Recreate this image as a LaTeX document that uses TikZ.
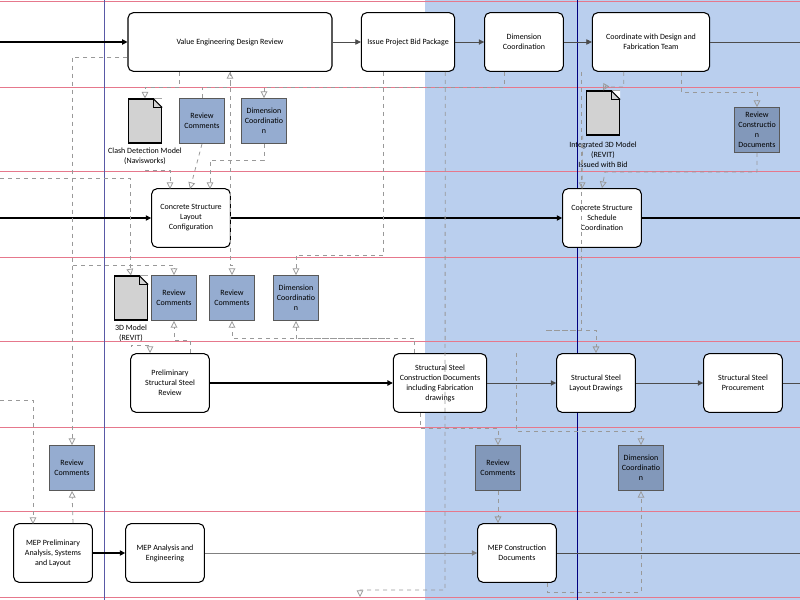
\documentclass[tikz,border=0pt]{standalone}
\usepackage{fontspec}
\setmainfont{Carlito}
\usetikzlibrary{arrows.meta,positioning}
\definecolor{laneblue}{RGB}{186,207,238}
\definecolor{boxblue}{RGB}{149,172,208}
\definecolor{boxdark}{RGB}{130,152,186}
\definecolor{laneline}{RGB}{230,120,140}
\definecolor{docgray}{RGB}{210,210,210}

\begin{document}
\begin{tikzpicture}[
    x=0.75pt, y=-0.75pt,
    font=\fontsize{6}{7.5}\selectfont,
    task/.style={rectangle, draw, rounded corners=4pt, fill=white, thick, align=center, minimum width=59pt, minimum height=44pt},
    note/.style={rectangle, draw=gray!70!black, fill=boxblue, align=center, minimum width=34pt, minimum height=34pt, inner sep=1pt},
    notedark/.style={note, fill=boxdark},
    doc/.style={rectangle, draw, thick, fill=docgray, minimum width=25pt, minimum height=33pt},
    flow/.style={-{Triangle[length=4pt,width=4pt]}, thick},
    thinflow/.style={-{Triangle[length=4pt,width=4pt]}, gray!60!black},
    link/.style={-{Triangle[open,length=5pt,width=5pt]}, dashed, gray!80, semithick}
]
    % lanes
    \fill[laneblue] (425,0) rectangle (800,600);
    \useasboundingbox (0,0) rectangle (800,600);
    \foreach \y in {1,87,171,257,341,427,511,597}
        \draw[laneline, thin] (0,\y) -- (800,\y);
    \draw[blue!30!gray] (104,0) -- (104,600);
    \draw[blue!50!black, thin] (577,0) -- (577,600);

    % top lane
    \node[task, minimum width=153pt] (vereview) at (230,42) {Value Engineering Design Review};
    \node[task, minimum width=70pt] (bidpkg) at (408,42) {Issue Project Bid Package};
    \node[task] (dimcoord) at (524,42) {Dimension\\Coordination};
    \node[task, minimum width=88pt] (designteam) at (651,42) {Coordinate with Design and\\Fabrication Team};

    % review lane
    \node[doc] (clash) at (145,121) {};
    \node[below=0pt of clash, align=center] (clashlbl) {Clash Detection Model\\(Navisworks)};
    \node[note] (review1) at (202,121) {Review\\Comments};
    \node[note] (dim1) at (264,121) {Dimension\\Coordinatio\\n};
    \node[doc] (intmodel) at (603,113) {};
    \node[below=1pt of intmodel, align=center] (intlbl) {Integrated 3D Model\\(REVIT)\\Issued with Bid};
    \node[notedark] (reviewcd) at (757,130) {Review\\Constructio\\n\\Documents};

    % concrete lane
    \node[task] (concrete) at (191,218) {Concrete Structure\\Layout\\Configuration};
    \node[task] (schedule) at (602,218) {Concrete Structure\\Schedule\\Coordination};

    % model lane
    \node[doc] (model3d) at (131,298) {};
    \node[below=0pt of model3d, align=center] (modellbl) {3D Model\\(REVIT)};
    \node[note] (review2) at (174,298) {Review\\Comments};
    \node[note] (review3) at (232,298) {Review\\Comments};
    \node[note] (dim2) at (296,298) {Dimension\\Coordinatio\\n};

    % steel lane
    \node[task] (prelim) at (170,383) {Preliminary\\Structural Steel\\Review};
    \node[task, minimum width=70pt] (steeldocs) at (440,383) {Structural Steel\\Construction Documents\\including Fabrication\\drawings};
    \node[task] (steellayout) at (596,383) {Structural Steel\\Layout Drawings};
    \node[task] (procure) at (743,383) {Structural Steel\\Procurement};

    % MEP review lane
    \node[note] (review4) at (72,468) {Review\\Comments};
    \node[notedark] (review5) at (498,468) {Review\\Comments};
    \node[notedark] (dim3) at (641,468) {Dimension\\Coordinatio\\n};

    % MEP lane
    \node[task] (mepprelim) at (53,553) {MEP Preliminary\\Analysis, Systems\\and Layout};
    \node[task] (mepanalysis) at (165,553) {MEP Analysis and\\Engineering};
    \node[task] (mepdocs) at (517,553) {MEP Construction\\Documents};

    % folded corners
    \foreach \d in {clash, intmodel, model3d} {
        \fill[white] (\d.north east) ++(-9,0) -- ++(9,9) -- (\d.north east) -- cycle;
        \draw[thick] (\d.north east) ++(-9,0) -- ++(9,9);
        \draw (\d.north east) ++(-9,0) |- ++(9,9);
    }

    \coordinate (inA) at (0,42);
    \coordinate (inB) at (0,218);
    \coordinate (outA) at (800,42);
    \coordinate (outB) at (800,218);
    \coordinate (outC) at (800,383);
    \coordinate (outD) at (800,553);

    % main flows
    \draw[flow] (inA) -- (vereview);
    \draw[thinflow] (vereview) -- (bidpkg);
    \draw[thinflow] (bidpkg) -- (dimcoord);
    \draw[thinflow] (dimcoord) -- (designteam);
    \draw[gray!60!black] (designteam) -- (outA);
    \draw[flow] (inB) -- (concrete);
    \draw[flow] (concrete) -- (schedule);
    \draw[thick] (schedule) -- (outB);
    \draw[flow] (prelim) -- (steeldocs);
    \draw[thinflow] (steeldocs) -- (steellayout);
    \draw[thinflow] (steellayout) -- (procure);
    \draw[gray!60!black] (procure) -- (outC);
    \draw[flow] (mepprelim) -- (mepanalysis);
    \draw[thinflow, gray] (mepanalysis) -- (mepdocs);
    \draw[gray!60!black] (mepdocs) -- (outD);

    % dashed links
    \draw[link] (vereview.south west) ++(52,0) |- (145,87) -- (clash.north);
    \draw[link] (review1.north) |- (230,87) -- (230,72);
    \draw[link] (dimcoord.south west) ++(20,0) |- (264,87) -- (dim1.north);
    \draw[link] (clashlbl.south) |- (170,170) -- (170,189);
    \draw[link] (review1.south) -- (190,189);
    \draw[link] (dim1.south) |- (210,160) -- (210,189);
    \draw[link] (0,178) -| (130,270) -- (model3d.north);
    \draw[link] (vereview.west) ++(0,15) -| (review4.north);
    \draw[link] (mepprelim.north) ++(20,0) -- (review4.south);
    \draw[link] (0,400) -| (33,524);
    \draw[link] (prelim.north) ++(20,0) |- (190,340) -| (review2.south);
    \draw[link] (modellbl.south) |- (150,345) -- (150,353);
    \draw[link] (73,265) -| (review2.north);
    \draw[link] (230,72) -- (230,265) -| (review3.north);
    \draw[link] (bidpkg.south west) ++(23,0) |- (296,255) -- (dim2.north);
    \draw[link] (steeldocs.north west) ++(22,0) |- (232,338) -- (review3.south);
    \draw[link] (385,338) -| (dim2.south);
    \draw[link] (bidpkg.south east) ++(-10,0) -- (445,590) -| (360,597);
    \draw[link] (designteam.south west) ++(32,0) |- (605,87) -- (intmodel.north);
    \draw[link] (designteam.south) ++(30,0) |- (757,92) -- (reviewcd.north);
    \draw[link] (reviewcd.south) |- (605,172) -- (schedule.north);
    \draw[link] (intmodel.south west) ++(-3,0) -- (582,189);
    \draw[link] (steeldocs.south) ++(-20,0) |- (498,428) -- (review5.north);
    \draw[link] (review5.south) -- (mepdocs.north -| review5.south);
    \draw[link] (steellayout.north west) ++(-40,0) |- (641,431) -- (dim3.north);
    \draw[link] (mepdocs.south) ++(30,0) |- (641,592) -- (dim3.south);
    \draw[link] (designteam.south west) ++(-10,0) |- (545,330) -| (steellayout.north);
\end{tikzpicture}
\end{document}
